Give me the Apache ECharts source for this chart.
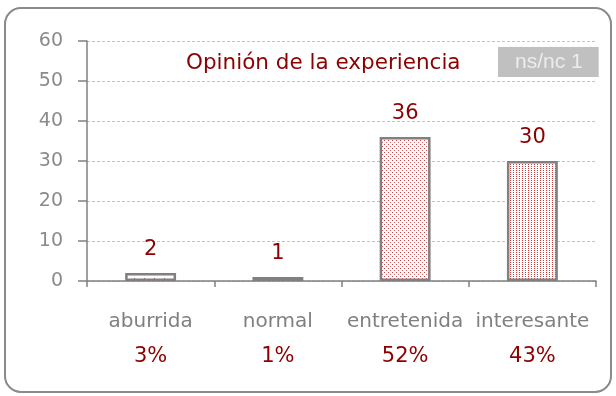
<!DOCTYPE html>
<html>
<head>
<meta charset="utf-8">
<script src="https://cdn.jsdelivr.net/npm/echarts@6/dist/echarts.min.js"></script>
<style>
  html, body { margin: 0; padding: 0; background: #ffffff; }
  #chart { width: 616px; height: 396px; }
</style>
</head>
<body>
<div id="chart"></div>
<script>
// Survey answers: how the experience was rated
const categories = ['aburrida', 'normal', 'entretenida', 'interesante'];
const counts = [2, 1, 36, 30];
const percents = ['3%', '1%', '52%', '43%'];
const noAnswerCount = 1;
const yMin = 0;
const yMax = 60;
const yStep = 10;

const DARK_RED = '#8b0000';
const GREY = '#808080';
const TEXT_FONT = '"DejaVu Sans", Verdana, sans-serif';

// Small dotted tiles used as bar fills
function dotTile(size, dots) {
  const c = document.createElement('canvas');
  c.width = size[0];
  c.height = size[1];
  const ctx = c.getContext('2d');
  ctx.fillStyle = '#ffffff';
  ctx.fillRect(0, 0, size[0], size[1]);
  dots.forEach(d => {
    ctx.fillStyle = d[2];
    ctx.fillRect(d[0], d[1], 1, 1);
  });
  return { image: c, repeat: 'repeat' };
}

const fills = [
  dotTile([10, 4], [[4, 2, '#c04040']]),
  dotTile([10, 4], [[4, 2, '#c04040']]),
  dotTile([4, 4], [[0, 0, '#cc4444'], [2, 2, '#d86060']]),
  dotTile([3, 2], [[0, 0, '#c83c3c']])
];

const chart = echarts.init(document.getElementById('chart'), null, { renderer: 'canvas' });

chart.setOption({
  backgroundColor: '#ffffff',
  animation: false,
  title: [{
    text: 'Opinión de la experiencia',
    left: 186,
    top: 52,
    padding: 0,
    textStyle: { color: DARK_RED, fontFamily: TEXT_FONT, fontSize: 21.5, fontWeight: 'normal' }
  }, {
    text: 'ns/nc ' + noAnswerCount,
    left: 498,
    top: 47,
    backgroundColor: '#c0c0c0',
    padding: [5, 16, 4, 17],
    textStyle: { color: '#ececec', fontFamily: '"Liberation Sans", Arial, sans-serif', fontSize: 21, fontWeight: 'normal' }
  }],
  graphic: [{
    type: 'rect',
    shape: { x: 5, y: 8, width: 606, height: 384, r: 16 },
    style: { fill: 'none', stroke: '#8a8a8a', lineWidth: 2 },
    z: -1
  }],
  grid: { left: 87, right: 20, top: 41, bottom: 115, containLabel: false },
  xAxis: {
    type: 'category',
    data: categories,
    axisLine: { lineStyle: { color: GREY, width: 1.5 } },
    axisTick: { show: true, length: 6, lineStyle: { color: GREY, width: 1.5 } },
    axisLabel: {
      margin: 23,
      interval: 0,
      formatter: (v, i) => '{c|' + v + '}\n{p|' + percents[i] + '}',
      rich: {
        c: { color: GREY, fontFamily: TEXT_FONT, fontSize: 20, lineHeight: 35 },
        p: { color: DARK_RED, fontFamily: TEXT_FONT, fontSize: 21, lineHeight: 35 }
      }
    }
  },
  yAxis: {
    type: 'value',
    min: yMin,
    max: yMax,
    interval: yStep,
    axisLine: { show: true, lineStyle: { color: GREY, width: 1.5 } },
    axisTick: { show: true, length: 9, lineStyle: { color: GREY, width: 1.5 } },
    axisLabel: { color: '#8a8a8a', fontFamily: TEXT_FONT, fontSize: 19, margin: 24 },
    splitLine: { lineStyle: { color: '#c4c4c4', type: [3, 2], width: 1 } }
  },
  series: [{
    type: 'bar',
    barWidth: '40%',
    data: counts.map((v, i) => ({ value: v, itemStyle: { color: fills[i] } })),
    itemStyle: { borderColor: GREY, borderWidth: 2.5 },
    label: {
      show: true,
      position: 'top',
      distance: 13,
      color: DARK_RED,
      fontFamily: TEXT_FONT,
      fontSize: 21
    }
  }]
});
</script>
</body>
</html>
